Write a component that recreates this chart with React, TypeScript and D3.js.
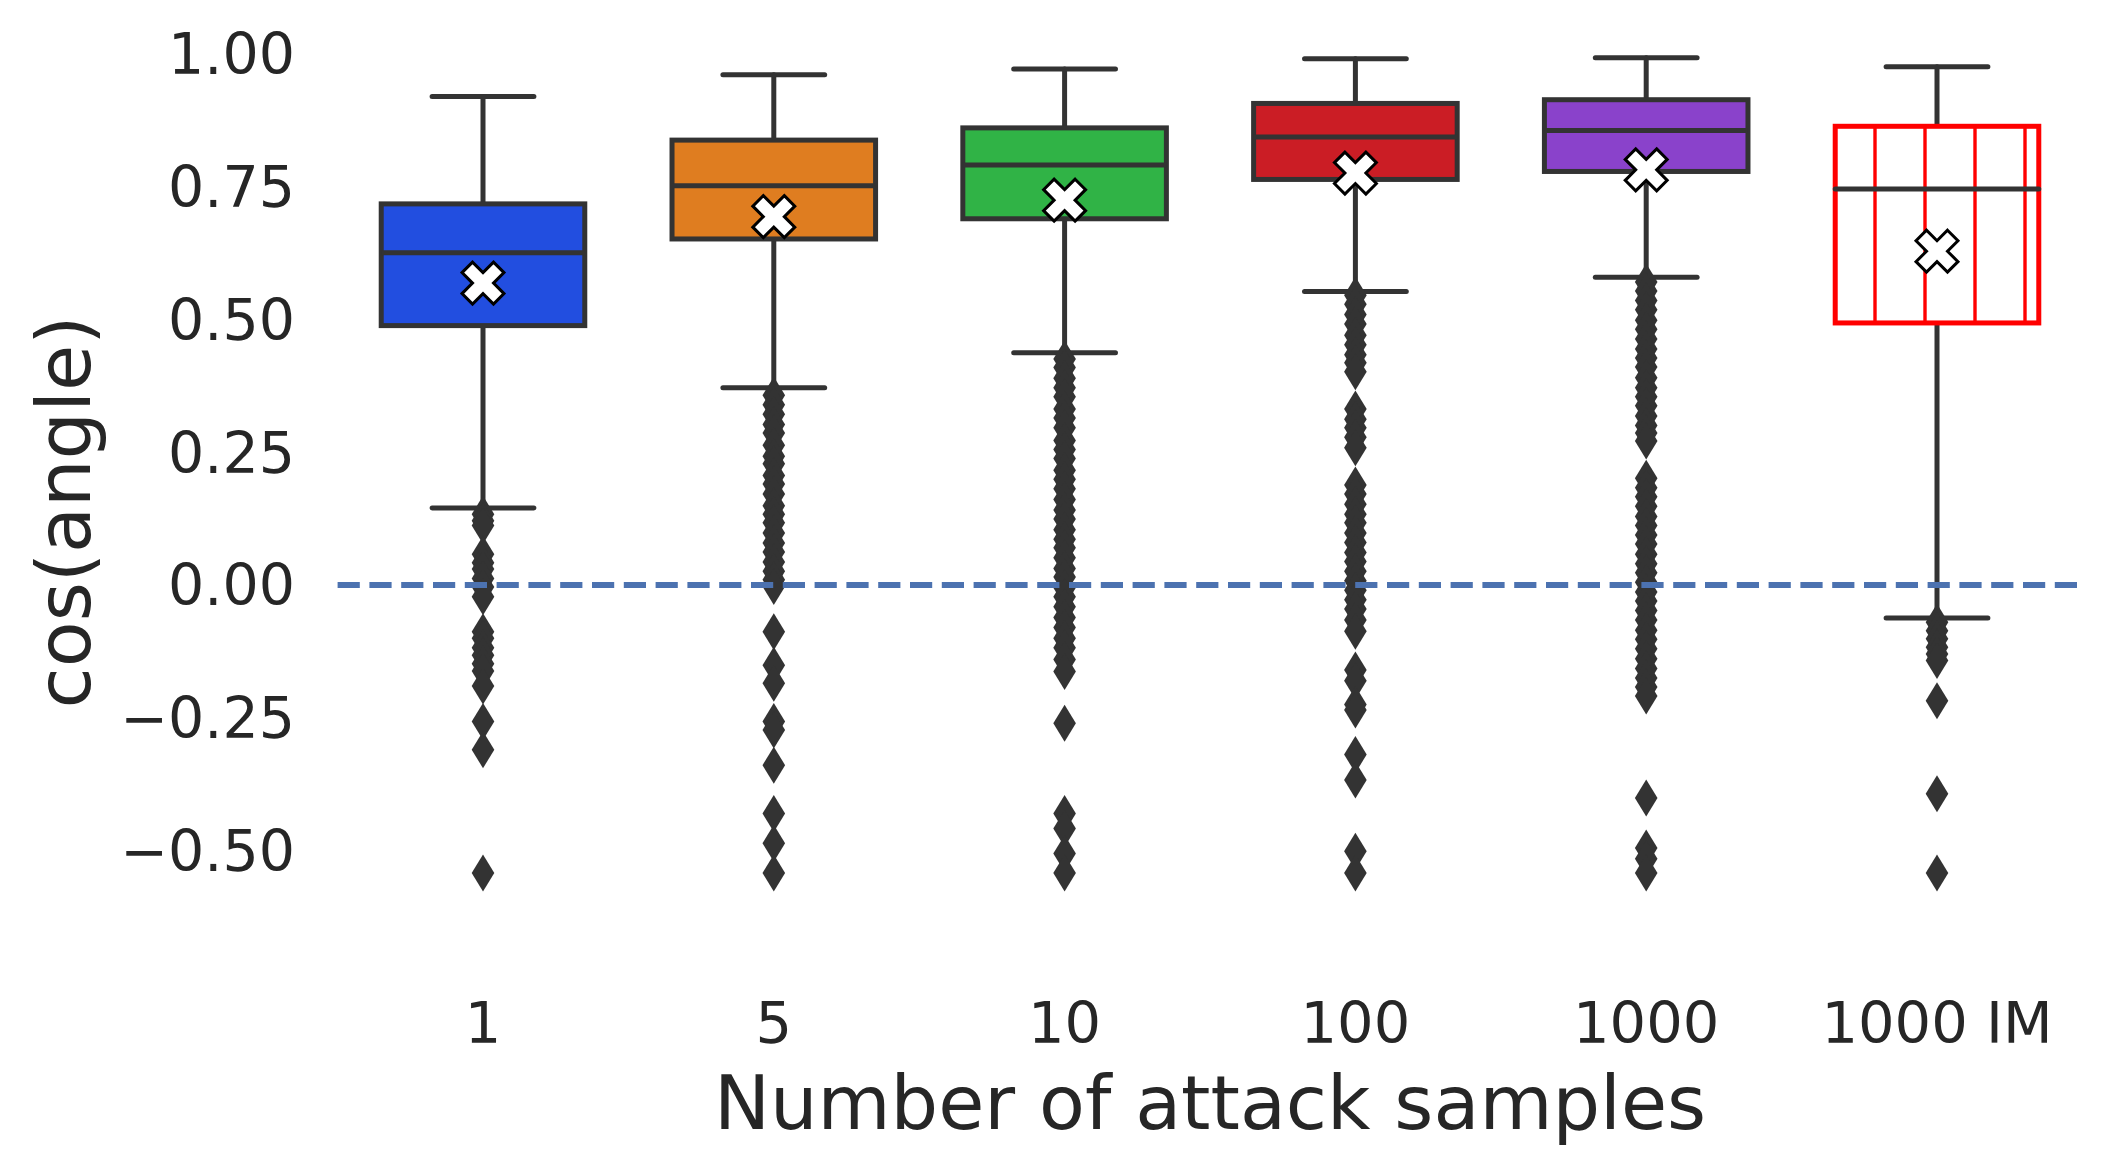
import React from "react";
import * as d3 from "d3";

// ---------- data ----------
const categories = ["1", "5", "10", "100", "1000", "1000 IM"];
const whiskerHigh = [0.919, 0.96, 0.971, 0.99, 0.992, 0.975];
const q3 = [0.717, 0.837, 0.86, 0.906, 0.913, 0.863];
const medians = [0.625, 0.751, 0.79, 0.843, 0.855, 0.745];
const q1 = [0.488, 0.651, 0.689, 0.763, 0.778, 0.493];
const whiskerLow = [0.145, 0.371, 0.437, 0.552, 0.579, -0.062];
const means = [0.568, 0.693, 0.724, 0.775, 0.781, 0.628];

const outliers1 = [
  0.133, 0.121, 0.112, 0.058, 0.042, 0.03, 0.012, -0.004, -0.022, -0.088,
  -0.1, -0.118, -0.132, -0.148, -0.162, -0.19, -0.257, -0.31, -0.542,
];
const outliers5 = [
  0.357, 0.339, 0.321, 0.302, 0.286, 0.263, 0.242, 0.228, 0.206, 0.19, 0.171,
  0.149, 0.133, 0.117, 0.098, 0.079, 0.062, 0.043, 0.026, 0.01, -0.003,
  -0.088, -0.151, -0.185, -0.257, -0.273, -0.339, -0.43, -0.486, -0.542,
];
const outliers10 = [
  0.425, 0.409, 0.389, 0.371, 0.354, 0.331, 0.314, 0.296, 0.272, 0.255, 0.238,
  0.216, 0.199, 0.181, 0.161, 0.141, 0.124, 0.104, 0.086, 0.07, 0.051, 0.031,
  0.015, -0.005, -0.022, -0.041, -0.061, -0.08, -0.1, -0.118, -0.14, -0.163,
  -0.26, -0.43, -0.458, -0.505, -0.542,
];
const outliers100 = [
  0.545, 0.528, 0.509, 0.491, 0.47, 0.452, 0.433, 0.418, 0.401, 0.331, 0.312,
  0.296, 0.278, 0.258, 0.188, 0.171, 0.152, 0.133, 0.117, 0.098, 0.08, 0.061,
  0.044, 0.026, 0.008, -0.01, -0.028, -0.045, -0.066, -0.087, -0.16, -0.18,
  -0.225, -0.235, -0.319, -0.367, -0.501, -0.542,
];
const outliers1000 = [
  0.57, 0.553, 0.535, 0.518, 0.498, 0.481, 0.463, 0.444, 0.427, 0.41, 0.39,
  0.371, 0.354, 0.337, 0.318, 0.3, 0.286, 0.271, 0.201, 0.183, 0.166, 0.148,
  0.129, 0.112, 0.094, 0.077, 0.058, 0.04, 0.023, 0.005, -0.013, -0.03,
  -0.048, -0.066, -0.085, -0.102, -0.12, -0.139, -0.157, -0.175, -0.192,
  -0.209, -0.401, -0.495, -0.515, -0.542,
];
const outliers1000IM = [
  -0.07, -0.086, -0.101, -0.117, -0.13, -0.142, -0.218, -0.393, -0.542,
];
const outliers = [outliers1, outliers5, outliers10, outliers100, outliers1000, outliers1000IM];

const yTicks = [-0.5, -0.25, 0, 0.25, 0.5, 0.75, 1.0];
const referenceLine = 0;

// ---------- styles ----------
const boxFills = ["#224ee0", "#df7d20", "#30b346", "#cb1d25", "#8a42cb", "#ffffff"];
const boxEdges = ["#333333", "#333333", "#333333", "#333333", "#333333", "#ff0000"];
const hatched = [false, false, false, false, false, true];
const GRAY = "#333333";
const TEXT = "#262626";
const FONT = "'DejaVu Sans', Verdana, sans-serif";

const W = 2111;
const H = 1174;

export default function App() {
  const x = d3.scaleBand<string>().domain(categories).range([337.6, 2082.4]).padding(0);
  const y = d3.scaleLinear().domain([-0.75, 1.05]).range([983.6, 26.9]);
  const bw = x.bandwidth();
  const boxW = bw * 0.7;
  const capW = boxW / 2;
  const lw = 5;

  const fmt = (v: number) => d3.format(".2f")(v).replace("-", "\u2212");

  const unit = 44.5 / 6;
  const plus = [
    [-1, -3], [1, -3], [1, -1], [3, -1], [3, 1], [1, 1],
    [1, 3], [-1, 3], [-1, 1], [-3, 1], [-3, -1], [-1, -1],
  ];
  const xMarker = "M" + plus.map((p) => `${p[0] * unit},${p[1] * unit}`).join("L") + "Z";
  const dh = 18.5;
  const dw = 11.3;
  const diamond = `M0,${-dh}L${dw},0L0,${dh}L${-dw},0Z`;

  return (
    <svg
      width={W}
      height={H}
      style={{ position: "absolute", left: 0, top: 0, display: "block", background: "#fff" }}
      fontFamily={FONT}
    >
      <defs>
        <pattern id="vhatch" patternUnits="userSpaceOnUse" x={0} y={0} width={50} height={20}>
          <line x1={25} y1={0} x2={25} y2={20} stroke="#ff0000" strokeWidth={3.4} />
        </pattern>
      </defs>
      <rect x={0} y={0} width={W} height={H} fill="#ffffff" />

      {/* y tick labels */}
      {yTicks.map((t) => (
        <text
          key={t}
          x={295}
          y={y(t)}
          dy="0.36em"
          textAnchor="end"
          fontSize={57}
          fill={TEXT}
        >
          {fmt(t)}
        </text>
      ))}

      {/* x tick labels */}
      {categories.map((c) => (
        <text
          key={c}
          x={(x(c) as number) + bw / 2}
          y={1043}
          textAnchor="middle"
          fontSize={57.5}
          fill={TEXT}
        >
          {c}
        </text>
      ))}

      {/* axis labels */}
      <text x={(337.6 + 2082.4) / 2} y={1129} textAnchor="middle" fontSize={75} fill={TEXT}>
        Number of attack samples
      </text>
      <text
        transform={`translate(90,512) rotate(-90)`}
        textAnchor="middle"
        fontSize={75}
        fill={TEXT}
      >
        cos(angle)
      </text>

      {/* boxes */}
      {categories.map((c, i) => {
        const cx = (x(c) as number) + bw / 2;
        const left = cx - boxW / 2;
        return (
          <g key={c}>
            <line x1={cx} x2={cx} y1={y(q3[i])} y2={y(whiskerHigh[i])} stroke={GRAY} strokeWidth={lw} strokeLinecap="round" />
            <line x1={cx} x2={cx} y1={y(q1[i])} y2={y(whiskerLow[i])} stroke={GRAY} strokeWidth={lw} strokeLinecap="round" />
            <line x1={cx - capW / 2} x2={cx + capW / 2} y1={y(whiskerHigh[i])} y2={y(whiskerHigh[i])} stroke={GRAY} strokeWidth={lw} strokeLinecap="round" />
            <line x1={cx - capW / 2} x2={cx + capW / 2} y1={y(whiskerLow[i])} y2={y(whiskerLow[i])} stroke={GRAY} strokeWidth={lw} strokeLinecap="round" />
            <rect x={left} y={y(q3[i])} width={boxW} height={y(q1[i]) - y(q3[i])} fill={boxFills[i]} />
            {hatched[i] && (
              <rect x={left} y={y(q3[i])} width={boxW} height={y(q1[i]) - y(q3[i])} fill="url(#vhatch)" />
            )}
            <rect
              x={left}
              y={y(q3[i])}
              width={boxW}
              height={y(q1[i]) - y(q3[i])}
              fill="none"
              stroke={boxEdges[i]}
              strokeWidth={lw}
            />
            <line
              x1={left}
              x2={left + boxW}
              y1={y(medians[i])}
              y2={y(medians[i])}
              stroke={GRAY}
              strokeWidth={lw}
              strokeLinecap={hatched[i] ? "round" : "butt"}
            />
            {outliers[i].map((v, k) => (
              <path key={k} d={diamond} transform={`translate(${cx},${y(v)})`} fill={GRAY} />
            ))}
          </g>
        );
      })}

      {/* reference line */}
      <line
        x1={337.6}
        x2={2082.4}
        y1={y(referenceLine)}
        y2={y(referenceLine)}
        stroke="#4c72b0"
        strokeWidth={6}
        strokeDasharray="22.2 9.6"
      />

      {/* means */}
      {categories.map((c, i) => {
        const cx = (x(c) as number) + bw / 2;
        return (
          <path
            key={c}
            d={xMarker}
            transform={`translate(${cx},${y(means[i])}) rotate(45)`}
            fill="#ffffff"
            stroke="#000000"
            strokeWidth={3}
            strokeLinejoin="miter"
          />
        );
      })}
    </svg>
  );
}
